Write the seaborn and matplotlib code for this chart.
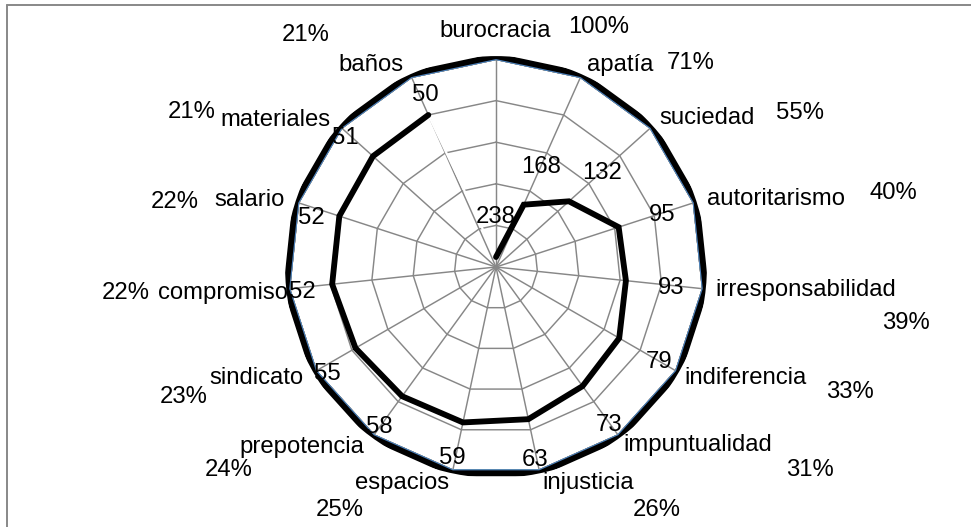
import numpy as np
import pandas as pd
import matplotlib
matplotlib.use("Agg")
import matplotlib.pyplot as plt
import seaborn as sns

# --- data -------------------------------------------------------------
categories = ["burocracia", "apatía", "suciedad", "autoritarismo",
              "irresponsabilidad", "indiferencia", "impuntualidad",
              "injusticia", "espacios", "prepotencia", "sindicato",
              "compromiso", "salario", "materiales", "baños"]
counts = [238, 168, 132, 95, 93, 79, 73, 63, 59, 58, 55, 52, 52, 51, 50]
percent_labels = ["100%", "71%", "55%", "40%", "39%", "33%", "31%", "26%",
                  "25%", "24%", "23%", "22%", "22%", "21%", "21%"]
# auxiliary series that sit on the zero ring
zero_series = {
    "s1": [0] * 15, "s2": [0] * 15, "s3": [0] * 15,
    "s4": [0] * 15, "s5": [0] * 15, "s6": [0] * 15,
}
grid_levels = [200, 150, 100, 50, 0]
r_max = 250
r_frame = -3.5

# --- layout (figure pixels, label centres) ----------------------------
W, H = 971, 527
cat_pos = [(495, 31), (620, 65), (707, 118), (776, 199), (806, 290),
           (746, 378), (698, 445), (588, 483), (402, 483), (302, 447),
           (256, 378), (223, 293), (250, 200), (275, 120), (371, 65)]
pct_pos = [(599, 27), (691, 63), (800, 113), (893, 193), (906, 323),
           (850, 392), (810, 470), (657, 510), (340, 510), (229, 470),
           (184, 397), (126, 293), (175, 202), (192, 112), (306, 35)]
val_pos = [(496, 217), (541, 167), (602, 173), (662, 215), (671, 288),
           (659, 362), (609, 425), (535, 460), (452, 458), (379, 427),
           (327, 374), (302, 292), (311, 218), (345, 138), (425, 95)]

sns.set_theme(style="white")
plt.rcParams["font.family"] = ["Liberation Sans", "DejaVu Sans"]
FS = 17.2

fig = plt.figure(figsize=(W / 100, H / 100), dpi=100)
fig.patch.set_facecolor("white")

# polar panel, radial axis reversed so the largest count sits at the centre
cx, cy, R0 = 496, 267, 208          # R0: pixel radius of the zero ring
R_edge = R0 * (r_max - r_frame) / r_max
ax = fig.add_axes([(cx - R_edge) / W, (H - cy - R_edge) / H,
                   2 * R_edge / W, 2 * R_edge / H], projection="polar")
ax.set_theta_zero_location("N")
ax.set_theta_direction(-1)
ax.set_ylim(r_max, r_frame)
ax.set_xticks([])
ax.set_yticks([])
ax.grid(False)
ax.spines["polar"].set_visible(False)
ax.set_facecolor("white")

n = len(categories)
theta = np.arange(n) * 2 * np.pi / n
theta_closed = np.append(theta, theta[0])

grid_kw = dict(color="#878787", lw=1.05, zorder=1)
for lvl in grid_levels:
    ax.plot(theta_closed, [lvl] * (n + 1), **grid_kw)
for t in theta:
    ax.plot([t, t], [r_max, 0], **grid_kw)

# zero-ring series in the default office palette
palette = {"s1": "#F79646", "s2": "#8064A2", "s3": "#9BBB59",
           "s4": "#C0504D", "s5": "#4BACC6", "s6": "#4F81BD"}
for name, vals in zero_series.items():
    df = pd.DataFrame({"theta": theta_closed, "r": vals + [vals[0]]})
    sns.lineplot(data=df, x="theta", y="r", sort=False, estimator=None,
                 color=palette[name], lw=1.6, ax=ax, zorder=3)

# outer frame ring
ax.plot(theta_closed, [r_frame] * (n + 1), color="black", lw=4.2, zorder=4)

# closing segment of the main series, drawn in white
ax.plot([theta[-1], 2 * np.pi], [counts[-1], counts[0]], color="white",
        lw=1.6, zorder=2)

# main series
df_main = pd.DataFrame({"theta": theta, "r": counts})
sns.lineplot(data=df_main, x="theta", y="r", sort=False, estimator=None,
             color="black", lw=4.2, ax=ax, zorder=5)
for line in ax.lines:
    line.set_solid_joinstyle("miter")
ax.set_xlabel("")
ax.set_ylabel("")
ax.set_ylim(r_max, r_frame)

def px(x, y):
    return x / W, 1 - y / H

for lab, (x, y) in zip(categories, cat_pos):
    fig.text(*px(x, y), lab, ha="center", va="center", fontsize=FS,
             color="black")
for lab, (x, y) in zip(percent_labels, pct_pos):
    fig.text(*px(x, y), lab, ha="center", va="center", fontsize=FS,
             color="black")
for v, (x, y) in zip(counts, val_pos):
    fig.text(*px(x, y), str(v), ha="center", va="center", fontsize=FS,
             color="black")

# chart-area border (top and left edges fall inside the canvas)
fig.add_artist(plt.Line2D([7 / W, 7 / W], [0, 1 - 5 / H], color="#888888",
                          lw=1.4, transform=fig.transFigure))
fig.add_artist(plt.Line2D([7 / W, 1], [1 - 5 / H, 1 - 5 / H],
                          color="#888888", lw=1.4, transform=fig.transFigure))

fig.savefig("out.png", dpi=100, facecolor="white")
